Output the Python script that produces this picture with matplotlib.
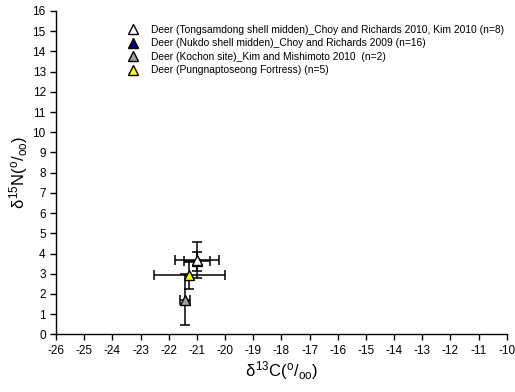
import matplotlib
matplotlib.use("Agg")
import matplotlib.pyplot as plt

plt.rcParams['font.family'] = ['Liberation Sans', 'DejaVu Sans']
plt.rcParams['mathtext.fontset'] = 'custom'
plt.rcParams['mathtext.rm'] = 'Liberation Sans'
plt.rcParams['mathtext.it'] = 'Liberation Sans'
plt.rcParams['axes.unicode_minus'] = False

# series: label, mean d13C, sd d13C, mean d15N, sd d15N
labels = ["Deer (Tongsamdong shell midden)_Choy and Richards 2010, Kim 2010 (n=8)",
          "Deer (Nukdo shell midden)_Choy and Richards 2009 (n=16)",
          "Deer (Kochon site)_Kim and Mishimoto 2010  (n=2)",
          "Deer (Pungnaptoseong Fortress) (n=5)"]
c_mean = [-21.0, -21.0, -21.43, -21.27]
c_sd = [0.79, 0.47, 0.18, 1.27]
n_mean = [3.68, 3.62, 1.72, 2.92]
n_sd = [0.88, 0.47, 1.27, 0.66]
colors = ["white", "#000080", "#a0a0a0", "#ffff00"]
zorders = [6, 5, 4, 4]

fig = plt.figure(figsize=(5.15, 3.92), dpi=100)
ax = fig.add_axes([0.109, 0.147, 0.875, 0.825])

for i in range(len(labels)):
    ax.errorbar(c_mean[i], n_mean[i], xerr=c_sd[i], yerr=n_sd[i], fmt='none',
                ecolor='black', elinewidth=1.1, capsize=3.5, capthick=1.1, zorder=2)
for i in range(len(labels)):
    ax.plot(c_mean[i], n_mean[i], '^', ms=7, mfc=colors[i], mec='black', mew=1.0,
            label=labels[i], zorder=zorders[i], linestyle='none')

ax.set_xlim(-26, -10)
ax.set_ylim(0, 16)
ax.set_xticks(range(-26, -9))
ax.set_yticks(range(0, 17))
ax.tick_params(labelsize=8.5, length=4, width=1, direction='out')
for s in ['top', 'right']:
    ax.spines[s].set_visible(False)
ax.spines['left'].set_linewidth(1)
ax.spines['bottom'].set_linewidth(1)

ax.set_xlabel(r'$\delta^{13}$C($^{o}/_{oo}$)', fontsize=12, labelpad=2)
ax.set_ylabel(r'$\delta^{15}$N($^{o}/_{oo}$)', fontsize=12, labelpad=2)

ax.legend(loc='upper left', bbox_to_anchor=(0.131, 0.98), frameon=False, fontsize=7.4,
          handletextpad=0.8, labelspacing=0.35, borderpad=0.2)

fig.savefig("out.png", dpi=100)
